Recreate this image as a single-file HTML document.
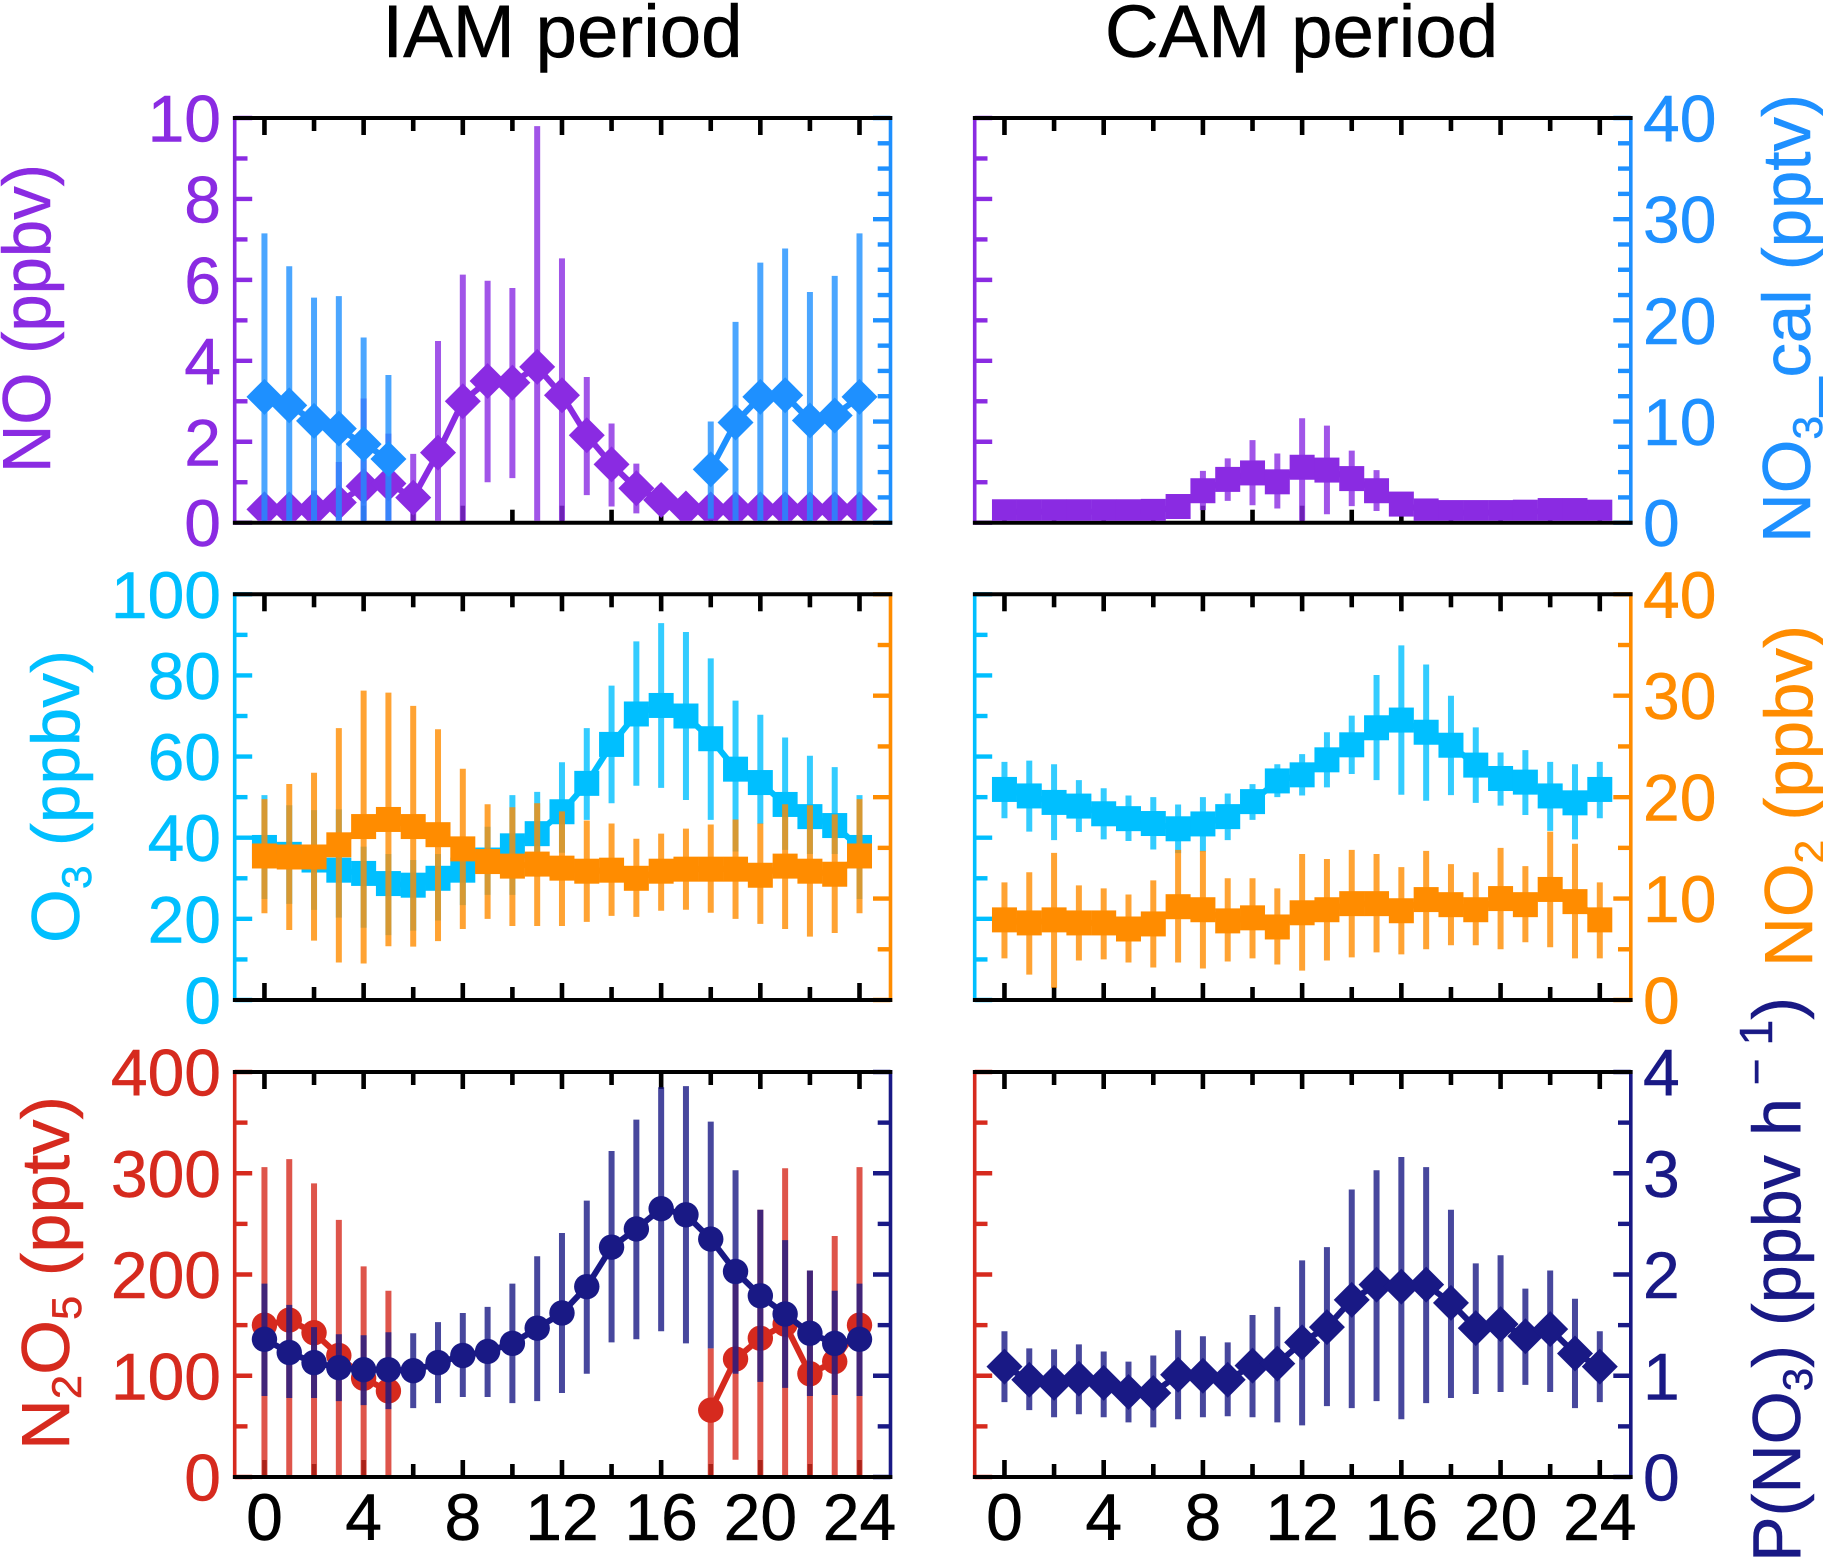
<!DOCTYPE html>
<html lang="en">
<head>
<meta charset="utf-8">
<title>Diurnal profiles, IAM and CAM periods</title>
<style>
html,body{margin:0;padding:0;background:#fff;}
svg{display:block;font-family:"Liberation Sans",Arial,sans-serif;}
</style>
</head>
<body>
<svg id="chart" xmlns="http://www.w3.org/2000/svg" width="1823" height="1559" viewBox="0 0 1823 1559">
  <rect x="0" y="0" width="1823" height="1559" fill="#ffffff"/>
  <text x="562.5" y="57" font-size="74.5" text-anchor="middle" fill="#000" stroke="#000" stroke-width="0.5">IAM period</text>
  <text x="1301.5" y="57" font-size="74.5" text-anchor="middle" fill="#000" stroke="#000" stroke-width="0.5">CAM period</text>

  <text transform="translate(50,473) rotate(-90)" font-size="68" fill="#8a2be2" stroke="#8a2be2" stroke-width="0.5" textLength="309" lengthAdjust="spacingAndGlyphs">NO (ppbv)</text>
  <text transform="translate(79,943) rotate(-90)" font-size="68" fill="#00bfff" stroke="#00bfff" stroke-width="0.5" textLength="293" lengthAdjust="spacingAndGlyphs">O<tspan font-size="42" dy="12">3</tspan><tspan dy="-12"> (ppbv)</tspan></text>
  <text transform="translate(69,1450) rotate(-90)" font-size="68" fill="#d62a1e" stroke="#d62a1e" stroke-width="0.5" textLength="354" lengthAdjust="spacingAndGlyphs">N<tspan font-size="42" dy="12">2</tspan><tspan dy="-12">O</tspan><tspan font-size="42" dy="12">5</tspan><tspan dy="-12"> (pptv)</tspan></text>
  <text transform="translate(1810,543) rotate(-90)" font-size="68" fill="#1e90ff" stroke="#1e90ff" stroke-width="0.5" textLength="449" lengthAdjust="spacingAndGlyphs">NO<tspan font-size="42" dy="12">3</tspan><tspan dy="-12">_cal (pptv)</tspan></text>
  <text transform="translate(1812,967) rotate(-90)" font-size="68" fill="#ff8c00" stroke="#ff8c00" stroke-width="0.5" textLength="342" lengthAdjust="spacingAndGlyphs">NO<tspan font-size="42" dy="12">2</tspan><tspan dy="-12"> (ppbv)</tspan></text>
  <text transform="translate(1800,1562) rotate(-90)" font-size="68" fill="#191985" stroke="#191985" stroke-width="0.5" textLength="565" lengthAdjust="spacingAndGlyphs">P(NO<tspan font-size="42" dy="12">3</tspan><tspan dy="-12">) (ppbv h</tspan><tspan font-size="46" dy="-28"> − 1</tspan><tspan dy="28">)</tspan></text>
</svg>

<script>
// ---------- Data (null = no data) ----------
const hours = [0,1,2,3,4,5,6,7,8,9,10,11,12,13,14,15,16,17,18,19,20,21,22,23,24];
const hourTicks = [0,4,8,12,16,20,24];
const hourMinorTicks = [2,6,10,14,18,22];
const noTicks = [0,2,4,6,8,10];
const nitrateTicks = [0,10,20,30,40];
const o3Ticks = [0,20,40,60,80,100];
const no2Ticks = [0,10,20,30,40];
const n2o5Ticks = [0,100,200,300,400];
const pno3Ticks = [0,1,2,3,4];

const iamNoMean  = [.33,.33,.33,.5,.9,.97,.62,1.73,3.0,3.5,3.46,3.85,3.15,2.16,1.44,.85,.56,.35,.33,.33,.33,.33,.33,.33,.33];
const iamNoUpper = [.7,.7,.8,1.5,3.07,2.2,1.7,4.49,6.13,5.98,5.8,9.8,6.53,3.6,2.45,1.46,.9,.6,.5,.5,.5,.5,.5,.5,.7];
const iamNoLower = [0,0,0,0,0,0,0,0,0,1.0,1.1,0,0,.68,.4,.23,.2,.1,.1,.1,.1,.1,.1,.1,0];

const iamNitrateMean  = [12.44,11.6,10.07,9.3,7.77,6.3,null,null,null,null,null,null,null,null,null,null,null,null,5.27,9.9,12.44,12.6,10.1,10.6,12.44];
const iamNitrateUpper = [28.6,25.35,22.25,22.4,18.3,14.6,null,null,null,null,null,null,null,null,null,null,null,null,10,19.85,25.7,27.1,22.8,24.4,28.6];
const iamNitrateLower = [0,0,0,0,0,0,null,null,null,null,null,null,null,null,null,null,null,null,.4,0,0,0,0,0,0];

const camNoMean  = [.27,.27,.27,.27,.27,.27,.28,.4,.79,1.07,1.23,1.01,1.37,1.3,1.09,.79,.46,.29,.25,.25,.25,.26,.3,.3,.26];
const camNoUpper = [.4,.4,.4,.4,.4,.4,.4,.6,1.28,1.59,2.04,1.71,2.58,2.4,1.78,1.3,.7,.4,.35,.35,.35,.35,.4,.4,.4];
const camNoLower = [.15,.15,.15,.15,.15,.15,.15,.2,.31,.54,.43,.35,0,.21,.41,.29,.2,.15,.15,.15,.15,.15,.15,.15,.15];

const iamO3Mean  = [37.6,35.9,34.5,32,31.2,28.7,28.3,30,32,34.5,38,41,46.4,53.4,63,70.5,72.6,70,64.4,56.9,53.6,48.2,45.2,43,37.6];
const iamO3Upper = [50.5,48,46.8,47,37.8,36,34.5,36,37,42.7,50.5,51.3,58.6,67,77.5,88.4,92.9,90.7,84.2,73.8,70.3,64.7,60.2,57.4,50.5];
const iamO3Lower = [24.9,23.7,22.2,20.3,17.8,16,17.1,19.6,23.4,25.9,25.9,30.4,36.3,44.4,48.5,52.8,52.3,49.3,44.4,36.6,43.4,37,36,36,24.9];

const iamNo2Mean  = [14.2,14.1,14.1,15.3,17.1,17.8,17.1,16.3,14.9,13.65,13.2,13.4,13,12.7,12.8,12,12.7,12.9,12.9,12.9,12.3,13.2,12.7,12.4,14.2];
const iamNo2Upper = [19.8,21.3,22.4,26.8,30.5,30.3,29,26.7,22.8,19.3,19,19.4,18.6,17.7,17.4,15.9,16.4,16.9,17.3,17.8,17.4,19.3,19.2,18.3,19.8];
const iamNo2Lower = [8.55,6.9,5.85,3.7,3.6,5.3,5.26,5.8,7,8,7.3,7.3,7.3,7.7,8.3,8.2,8.8,8.9,8.6,8,7.5,7,6.25,6.6,8.55];

const camO3Mean  = [51.9,50.3,48.7,47.8,45.9,44.7,43.5,42.2,43.4,45.2,48.9,54,55.5,59.2,62.9,67.1,69,66,62.8,57.9,54.6,53.7,50.3,48.6,51.9];
const camO3Upper = [58.7,59,58.1,54.2,52.2,50.4,50,48.2,50,50.9,53.2,58.1,60.6,66,70.1,80.1,87.4,82.7,75,67.2,61,61.6,58.7,58.1,58.7];
const camO3Lower = [44.8,41.5,39.4,41.4,39.6,39.2,37.1,36.2,36.6,39.4,44.4,50,50.4,52.4,55.7,54.2,50.6,49.1,50.5,48.6,47.9,45.6,41.7,39.6,44.8];

const camNo2Mean  = [7.9,7.6,7.9,7.6,7.6,7,7.5,9.2,8.9,7.8,8.1,7.2,8.6,8.9,9.5,9.5,8.8,9.9,9.4,8.9,10,9.4,10.9,9.7,7.9];
const camNo2Upper = [11.6,12.6,14.5,11.3,11,10.4,11.8,14.8,14.7,12,12,11,14.4,13.9,14.8,14.4,13.1,14.7,13.4,12.6,15,13.2,16.6,15.4,11.6];
const camNo2Lower = [4.1,2.5,1.2,3.9,4,3.7,3.2,3.7,3.1,3.8,4.1,3.5,2.9,3.9,4.2,4.7,4.5,5,5.4,5.4,5,5.7,5.2,4.1,4.1];

const iamN2o5Mean  = [150,155,142.5,120,97.5,85,null,null,null,null,null,null,null,null,null,null,null,null,66,116.5,137,151,102,114,150];
const iamN2o5Upper = [306,314,290,254,208,184,null,null,null,null,null,null,null,null,null,null,null,null,127,191,264,305,204,238,306];
const iamN2o5Lower = [0,0,0,0,0,0,null,null,null,null,null,null,null,null,null,null,null,null,0,17,0,0,0,0,0];

const iamPno3Mean  = [1.36,1.23,1.13,1.08,1.06,1.06,1.05,1.13,1.2,1.24,1.32,1.47,1.62,1.88,2.27,2.45,2.65,2.59,2.35,2.03,1.79,1.61,1.42,1.32,1.36];
const iamPno3Upper = [1.91,1.7,1.48,1.41,1.4,1.43,1.42,1.53,1.62,1.68,1.91,2.18,2.41,2.73,3.22,3.53,3.85,3.86,3.51,3.03,2.64,2.34,2.04,1.84,1.91];
const iamPno3Lower = [.8,.78,.78,.75,.71,.67,.68,.73,.79,.79,.73,.75,.83,1.02,1.33,1.36,1.44,1.32,1.27,1.02,.94,.88,.8,.81,.8];

const camPno3Mean  = [1.09,.96,.93,.97,.93,.84,.83,1.01,1,.96,1.1,1.12,1.33,1.48,1.75,1.9,1.88,1.9,1.72,1.47,1.51,1.39,1.46,1.22,1.09];
const camPno3Upper = [1.44,1.27,1.26,1.31,1.24,1.14,1.2,1.45,1.39,1.33,1.6,1.68,2.14,2.27,2.84,3.03,3.16,3.06,2.64,2.11,2.19,1.86,2.04,1.76,1.44];
const camPno3Lower = [.74,.66,.59,.62,.59,.54,.49,.57,.59,.6,.59,.54,.51,.7,.68,.75,.57,.73,.78,.82,.84,.91,.84,.68,.74];

// ---------- Layout ----------
const SVGNS = 'http://www.w3.org/2000/svg';
const chart = document.getElementById('chart');
const colLeft = {left:234.7, right:890.5};
const colRight = {left:974.7, right:1630.8};
const row1 = {top:118, bottom:522.7};
const row2 = {top:594.3, bottom:1000};
const row3 = {top:1072, bottom:1477};
const xMin = -1.2, xMax = 25.25;
const purple='#8a2be2', dodger='#1e90ff', sky='#00bfff', orange='#ff8c00', red='#d62a1e', navy='#191985';
let clipCount = 0;

function make(tag, attrs, parent){
  const el = document.createElementNS(SVGNS, tag);
  for(const k in attrs){ el.setAttribute(k, attrs[k]); }
  if(parent){ parent.appendChild(el); }
  return el;
}

function xScale(col){
  return function(h){ return col.left + (h - xMin) * (col.right - col.left) / (xMax - xMin); };
}
function yScale(row, maxValue){
  return function(v){ return row.bottom - v / maxValue * (row.bottom - row.top); };
}

function drawYAxis(g, name, col, row, side, color, maxValue, majorStep, minorStep, ticks, showLabels){
  const y = yScale(row, maxValue);
  const x = side === 'left' ? col.left : col.right;
  const dir = side === 'left' ? 1 : -1;
  const axisLine = make('line', {x1:x, x2:x, y1:row.top-2, y2:row.bottom+2, stroke:color, 'stroke-width':3.6}, g);
  
  
  const nMinor = Math.round(maxValue / minorStep);
  for(let i = 0; i <= nMinor; i++){
    const v = i * minorStep;
    const isMajor = Math.abs(v / majorStep - Math.round(v / majorStep)) < 1e-6;
    const tick = make('line', {x1:x, x2:x + dir * (isMajor ? 17.5 : 12.8), y1:y(v), y2:y(v), stroke:color, 'stroke-width':4.4}, g);
    
    
  }
  if(showLabels){
    ticks.forEach(function(v){
      const label = make('text', {x: side === 'left' ? 221 : 1643, y: y(v) + 23.5, 'font-size':66, fill:color, stroke:color, 'stroke-width':0.5, 'text-anchor': side === 'left' ? 'end' : 'start'}, g);
      label.textContent = String(v);
      
      
    });
  }
}

function drawXTick(g, name, x, row, len){
  const topTick = make('line', {x1:x, x2:x, y1:row.top, y2:row.top + len, stroke:'#000', 'stroke-width':4.6}, g);
  
  
  const botTick = make('line', {x1:x, x2:x, y1:row.bottom, y2:row.bottom - len, stroke:'#000', 'stroke-width':4.6}, g);
  
  
}

function drawXAxis(g, name, col, row, showLabels){
  const x = xScale(col);
  hourTicks.forEach(function(h){ drawXTick(g, name, x(h), row, 17); });
  hourMinorTicks.forEach(function(h){ drawXTick(g, name, x(h), row, 13); });
  const topLine = make('line', {x1:col.left-1.8, x2:col.right+1.8, y1:row.top, y2:row.top, stroke:'#000', 'stroke-width':4}, g);
  
  
  const botLine = make('line', {x1:col.left-1.8, x2:col.right+1.8, y1:row.bottom, y2:row.bottom, stroke:'#000', 'stroke-width':4}, g);
  
  
  if(showLabels){
    hourTicks.forEach(function(h){
      const label = make('text', {x:x(h), y:1540, 'font-size':66, fill:'#000', stroke:'#000', 'stroke-width':0.5, 'text-anchor':'middle'}, g);
      label.textContent = String(h);
      
      
    });
  }
}

function drawSeries(g, name, col, row, color, shape, maxValue, mean, upper, lower){
  const x = xScale(col);
  const y = yScale(row, maxValue);
  const series = make('g', {}, g);
  
  
  hours.forEach(function(h, i){
    if(upper[i] === null || lower[i] === null){ return; }
    const bar = make('line', {x1:x(h), x2:x(h), y1:y(upper[i]), y2:y(lower[i]), stroke:color, 'stroke-width':6, 'stroke-opacity':0.8}, series);
    
    
  });
  let d = '', pen = false;
  hours.forEach(function(h, i){
    if(mean[i] === null){ pen = false; return; }
    d += (pen ? 'L' : 'M') + x(h).toFixed(2) + ' ' + y(mean[i]).toFixed(2);
    pen = true;
  });
  const line = make('path', {d:d, fill:'none', stroke:color, 'stroke-width':6}, series);
  
  
  hours.forEach(function(h, i){
    if(mean[i] === null){ return; }
    const cx = x(h), cy = y(mean[i]);
    let mark;
    if(shape === 'diamond'){
      const pts = [(cx-18)+','+cy, cx+','+(cy-18), (cx+18)+','+cy, cx+','+(cy+18)].join(' ');
      mark = make('polygon', {points:pts, fill:color}, series);
    } else if(shape === 'square'){
      mark = make('rect', {x:cx-12.5, y:cy-12.5, width:25, height:25, fill:color}, series);
    } else {
      mark = make('circle', {cx:cx, cy:cy, r:12.7, fill:color}, series);
    }
    
    
  });
}

function drawPanel(opts){
  const g = make('g', {}, chart);
  
  
  const id = 'plot-clip-' + (clipCount++);
  const clip = make('clipPath', {id:id}, g);
  make('rect', {x:opts.col.left, y:opts.row.top + 2, width:opts.col.right - opts.col.left, height:opts.row.bottom - opts.row.top - 4}, clip);
  const L = opts.leftAxis, R = opts.rightAxis;
  drawYAxis(g, opts.name + '-left', opts.col, opts.row, 'left', L.color, L.max, L.major, L.minor, L.ticks, opts.col === colLeft);
  drawYAxis(g, opts.name + '-right', opts.col, opts.row, 'right', R.color, R.max, R.major, R.minor, R.ticks, opts.col === colRight);
  drawXAxis(g, opts.name, opts.col, opts.row, opts.xLabels);
  const plot = make('g', {'clip-path':'url(#' + id + ')'}, g);
  opts.series.forEach(function(s){
    drawSeries(plot, s.name, opts.col, opts.row, s.color, s.shape, s.max, s.mean, s.upper, s.lower);
  });
}

const noAxis = {color:purple, max:10, major:2, minor:1, ticks:noTicks};
const nitrateAxis = {color:dodger, max:40, major:10, minor:2.5, ticks:nitrateTicks};
const o3Axis = {color:sky, max:100, major:20, minor:10, ticks:o3Ticks};
const no2Axis = {color:orange, max:40, major:10, minor:5, ticks:no2Ticks};
const n2o5Axis = {color:red, max:400, major:100, minor:50, ticks:n2o5Ticks};
const pno3Axis = {color:navy, max:4, major:1, minor:0.5, ticks:pno3Ticks};

drawPanel({name:'iam-no', col:colLeft, row:row1, xLabels:false, leftAxis:noAxis, rightAxis:nitrateAxis, series:[
  {name:'iam-no', color:purple, shape:'diamond', max:10, mean:iamNoMean, upper:iamNoUpper, lower:iamNoLower},
  {name:'iam-no3-cal', color:dodger, shape:'diamond', max:40, mean:iamNitrateMean, upper:iamNitrateUpper, lower:iamNitrateLower}
]});
drawPanel({name:'cam-no', col:colRight, row:row1, xLabels:false, leftAxis:noAxis, rightAxis:nitrateAxis, series:[
  {name:'cam-no', color:purple, shape:'square', max:10, mean:camNoMean, upper:camNoUpper, lower:camNoLower}
]});
drawPanel({name:'iam-o3', col:colLeft, row:row2, xLabels:false, leftAxis:o3Axis, rightAxis:no2Axis, series:[
  {name:'iam-o3', color:sky, shape:'square', max:100, mean:iamO3Mean, upper:iamO3Upper, lower:iamO3Lower},
  {name:'iam-no2', color:orange, shape:'square', max:40, mean:iamNo2Mean, upper:iamNo2Upper, lower:iamNo2Lower}
]});
drawPanel({name:'cam-o3', col:colRight, row:row2, xLabels:false, leftAxis:o3Axis, rightAxis:no2Axis, series:[
  {name:'cam-o3', color:sky, shape:'square', max:100, mean:camO3Mean, upper:camO3Upper, lower:camO3Lower},
  {name:'cam-no2', color:orange, shape:'square', max:40, mean:camNo2Mean, upper:camNo2Upper, lower:camNo2Lower}
]});
drawPanel({name:'iam-n2o5', col:colLeft, row:row3, xLabels:true, leftAxis:n2o5Axis, rightAxis:pno3Axis, series:[
  {name:'iam-n2o5', color:red, shape:'circle', max:400, mean:iamN2o5Mean, upper:iamN2o5Upper, lower:iamN2o5Lower},
  {name:'iam-pno3', color:navy, shape:'circle', max:4, mean:iamPno3Mean, upper:iamPno3Upper, lower:iamPno3Lower}
]});
drawPanel({name:'cam-pno3', col:colRight, row:row3, xLabels:true, leftAxis:n2o5Axis, rightAxis:pno3Axis, series:[
  {name:'cam-pno3', color:navy, shape:'diamond', max:4, mean:camPno3Mean, upper:camPno3Upper, lower:camPno3Lower}
]});
</script>
</body>
</html>
